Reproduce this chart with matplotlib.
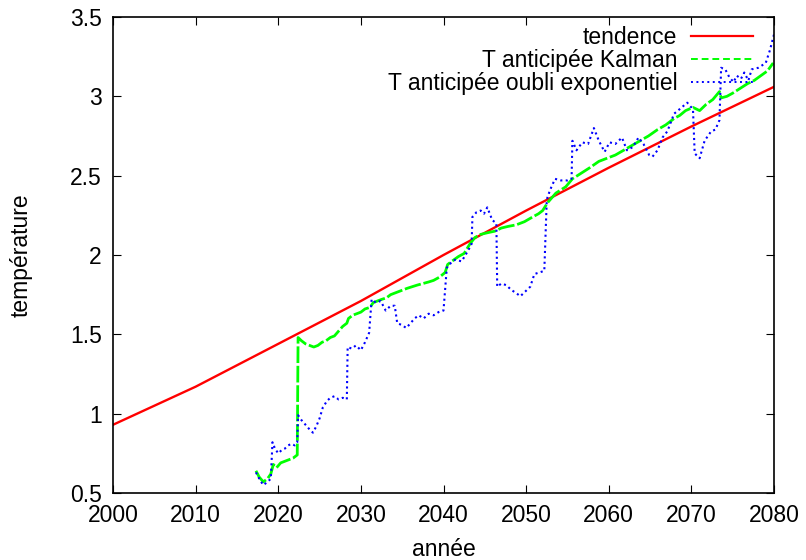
import matplotlib
matplotlib.use("Agg")
import matplotlib.pyplot as plt
from matplotlib.lines import Line2D

plt.rcParams['font.family'] = ['Liberation Sans', 'DejaVu Sans']

# tendance (courbe lisse)
trend_years = [2000, 2010, 2020, 2030, 2040, 2050, 2060, 2070, 2080]
trend_vals = [0.93, 1.17, 1.44, 1.71, 2.00, 2.28, 2.55, 2.81, 3.06]

# T anticipee Kalman
kal_years = [2017.3, 2017.7, 2018.2, 2018.7, 2019.1, 2019.4, 2019.8, 2020.3, 2020.8, 2021.3,
             2021.8, 2022.3, 2022.4, 2022.8, 2023.3, 2023.8, 2024.3, 2024.8, 2025.3, 2025.8,
             2026.3, 2026.8, 2027.3, 2027.8, 2028.3, 2028.5, 2029.0, 2029.5, 2030.0, 2030.5,
             2031.1, 2031.5, 2032.0, 2032.5, 2033.1, 2033.6, 2034.1, 2034.6, 2035.1, 2035.6,
             2036.2, 2036.8, 2037.5, 2038.2, 2038.8, 2039.5, 2040.2, 2040.5, 2041.0, 2041.8,
             2042.5, 2043.2, 2043.8, 2044.5, 2045.3, 2046.2, 2047.0, 2047.8, 2048.8, 2049.8,
             2050.8, 2051.5, 2052.0, 2052.6, 2053.1, 2053.6, 2054.2, 2054.8, 2055.6, 2056.2,
             2056.8, 2057.7, 2058.8, 2059.8, 2060.8, 2061.8, 2062.8, 2063.8, 2064.8, 2065.9,
             2066.9, 2067.9, 2068.6, 2069.3, 2070.2, 2071.0, 2071.8, 2072.6, 2073.4, 2073.6,
             2074.3, 2075.0, 2075.9, 2076.8, 2077.6, 2078.4, 2079.2, 2079.9]
kal_vals = [0.64, 0.60, 0.57, 0.59, 0.62, 0.68, 0.66, 0.69, 0.70, 0.71,
            0.72, 0.74, 1.48, 1.46, 1.44, 1.43, 1.42, 1.43, 1.45, 1.46,
            1.48, 1.49, 1.52, 1.55, 1.57, 1.60, 1.62, 1.63, 1.64, 1.66,
            1.67, 1.70, 1.71, 1.72, 1.73, 1.75, 1.76, 1.77, 1.78, 1.79,
            1.80, 1.81, 1.82, 1.83, 1.84, 1.86, 1.89, 1.94, 1.96, 1.99,
            2.01, 2.07, 2.11, 2.13, 2.14, 2.15, 2.17, 2.18, 2.19, 2.21,
            2.24, 2.26, 2.28, 2.33, 2.36, 2.39, 2.41, 2.43, 2.48, 2.50,
            2.52, 2.55, 2.59, 2.61, 2.63, 2.66, 2.69, 2.72, 2.75, 2.79,
            2.82, 2.86, 2.88, 2.91, 2.93, 2.91, 2.95, 2.98, 3.03, 2.99,
            3.00, 3.02, 3.05, 3.08, 3.10, 3.13, 3.16, 3.21]

# T anticipee oubli exponentiel
exp_years = [2017.3, 2017.8, 2018.2, 2018.7, 2019.1, 2019.3, 2019.6, 2020.0, 2020.4, 2020.8,
             2021.2, 2021.6, 2022.0, 2022.3, 2022.4, 2022.8, 2023.3, 2023.8, 2024.2, 2024.6,
             2025.0, 2025.4, 2025.9, 2026.3, 2026.8, 2027.3, 2027.8, 2028.3, 2028.4, 2028.9,
             2029.4, 2030.0, 2030.5, 2031.0, 2031.3, 2031.8, 2032.4, 2033.0, 2033.6, 2034.1,
             2034.4, 2034.9, 2035.5, 2036.0, 2036.5, 2037.0, 2037.6, 2038.2, 2038.8, 2039.4,
             2040.0, 2040.4, 2040.9, 2041.4, 2042.2, 2043.0, 2043.4, 2043.5, 2044.0, 2044.5,
             2044.9, 2045.3, 2045.9, 2046.4, 2046.5, 2047.0, 2047.6, 2048.2, 2048.8, 2049.3,
             2049.9, 2050.5, 2051.0, 2051.6, 2052.2, 2052.5, 2052.9, 2053.5, 2054.2, 2055.0,
             2055.5, 2055.6, 2056.1, 2056.8, 2057.5, 2058.2, 2058.8, 2059.5, 2060.1, 2060.8,
             2061.6, 2062.2, 2062.9, 2063.6, 2064.2, 2064.9, 2065.3, 2065.9, 2066.5, 2067.1,
             2067.9, 2068.6, 2069.5, 2070.0, 2070.2, 2070.4, 2071.0, 2071.6, 2072.4, 2072.9,
             2073.4, 2073.6, 2074.1, 2074.6, 2075.1, 2075.5, 2076.0, 2076.4, 2076.9, 2077.3,
             2078.1, 2079.0, 2079.5, 2080.0]
exp_vals = [0.63, 0.58, 0.55, 0.57, 0.59, 0.82, 0.78, 0.75, 0.77, 0.78,
            0.80, 0.81, 0.80, 0.82, 0.99, 0.96, 0.93, 0.90, 0.88, 0.92,
            0.97, 1.04, 1.08, 1.10, 1.11, 1.09, 1.10, 1.09, 1.42, 1.41,
            1.43, 1.40, 1.45, 1.51, 1.72, 1.70, 1.71, 1.65, 1.68, 1.68,
            1.57, 1.56, 1.54, 1.57, 1.60, 1.62, 1.60, 1.63, 1.62, 1.64,
            1.65, 1.92, 1.95, 1.97, 1.96, 2.03, 2.07, 2.24, 2.27, 2.28,
            2.26, 2.30, 2.22, 2.20, 1.80, 1.82, 1.81, 1.78, 1.76, 1.74,
            1.77, 1.80, 1.88, 1.89, 1.90, 2.35, 2.41, 2.48, 2.47, 2.47,
            2.48, 2.72, 2.66, 2.71, 2.70, 2.80, 2.72, 2.65, 2.71, 2.70,
            2.74, 2.66, 2.68, 2.74, 2.70, 2.63, 2.62, 2.66, 2.74, 2.78,
            2.89, 2.92, 2.96, 2.93, 2.91, 2.64, 2.61, 2.72, 2.78, 2.79,
            2.85, 3.18, 3.17, 3.12, 3.09, 3.13, 3.11, 3.15, 3.10, 3.17,
            3.18, 3.21, 3.29, 3.39]

labels = ['tendence', 'T anticipée Kalman', 'T anticipée oubli exponentiel']
xticks = [2000, 2010, 2020, 2030, 2040, 2050, 2060, 2070, 2080]
yticks = [0.5, 1, 1.5, 2, 2.5, 3, 3.5]
ytick_labels = ['0.5', '1', '1.5', '2', '2.5', '3', '3.5']

fs = 16.5

fig = plt.figure(figsize=(8.06, 5.6), dpi=100)
ax = fig.add_axes([113/806, 1 - 493/560, 661/806, 476/560])

ax.plot(trend_years, trend_vals, color='#ff0000', lw=1.7)
# the noisy kalman curve looks almost solid in the original
ax.plot(kal_years, kal_vals, color='#00ff00', lw=2.0, ls=(0, (6, 1)))
ax.plot(exp_years, exp_vals, color='#0000ff', lw=1.5, ls=(0, (1, 1.6)))

ax.set_xlim(2000, 2080)
ax.set_ylim(0.5, 3.5)
ax.set_xticks(xticks)
ax.set_yticks(yticks)
ax.set_yticklabels(ytick_labels)
ax.tick_params(direction='in', top=True, right=True, length=6, width=0.8,
               labelsize=fs, pad=8)
for s in ax.spines.values():
    s.set_linewidth(1.2)

ax.set_xlabel('année', fontsize=fs, labelpad=8)
ax.set_ylabel('température', fontsize=fs, labelpad=27)

handles = [Line2D([], [], color='#ff0000', lw=1.6),
           Line2D([], [], color='#00ff00', lw=1.4, ls=(0, (3.5, 2))),
           Line2D([], [], color='#0000ff', lw=1.4, ls=(0, (1, 1.8)))]
ax.legend(handles, labels, loc='upper right', bbox_to_anchor=(0.968, 0.982),
          frameon=False, markerfirst=False, fontsize=fs, handlelength=2.7,
          handletextpad=0.6, labelspacing=0.0, borderpad=0, borderaxespad=0)

fig.savefig('out.png', dpi=100)
